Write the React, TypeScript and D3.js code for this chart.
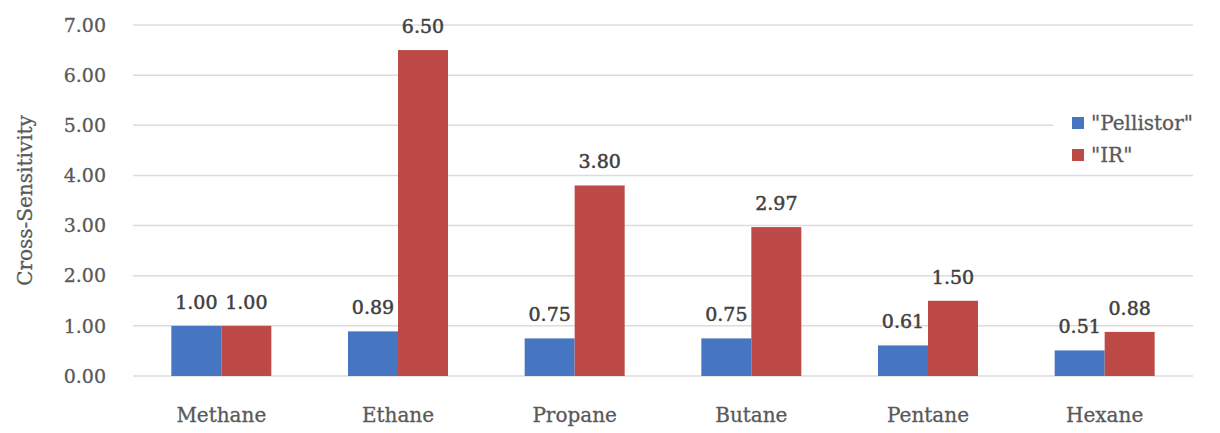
import * as React from 'react'
import { useEffect, useRef } from 'react'
import * as d3 from 'd3'

const categories = ['Methane', 'Ethane', 'Propane', 'Butane', 'Pentane', 'Hexane']
const seriesNames = ['"Pellistor"', '"IR"']
const pellistorValues = [1.0, 0.89, 0.75, 0.75, 0.61, 0.51]
const irValues = [1.0, 6.5, 3.8, 2.97, 1.5, 0.88]
const yTicks = [0, 1, 2, 3, 4, 5, 6, 7]
const colors = ['#4675C2', '#BD4A47']

const width = 1220
const height = 433

const App = () => {
  const chartRef = useRef<SVGSVGElement>(null)

  useEffect(() => {
    const svg = d3.select(chartRef.current)
    svg.selectAll('*').remove()

    const left = 133, right = 1193, top = 25, bottom = 376
    const font = '"DejaVu Serif", serif'

    const x0 = d3.scaleBand().domain(categories).range([left, right])
    const bw = x0.bandwidth()
    const x1 = d3.scaleBand().domain(seriesNames).range([bw / 2 - 50, bw / 2 + 50])
    const y = d3.scaleLinear().domain([0, 7]).range([bottom, top])

    // gridlines
    svg.append('g')
      .selectAll('line')
      .data(yTicks)
      .enter()
      .append('line')
      .attr('x1', left)
      .attr('x2', right)
      .attr('y1', d => y(d))
      .attr('y2', d => y(d))
      .attr('stroke', '#dcdcdc')
      .attr('stroke-width', 1.5)

    // y tick labels
    svg.append('g')
      .selectAll('text')
      .data(yTicks)
      .enter()
      .append('text')
      .attr('x', 106)
      .attr('y', d => y(d))
      .attr('dy', '0.35em')
      .attr('text-anchor', 'end')
      .style('font-family', font)
      .style('font-size', '19px')
      .attr('fill', '#595959')
      .attr('stroke', '#595959')
      .attr('stroke-width', 0.3)
      .text(d => d.toFixed(2))

    // y title
    svg.append('text')
      .attr('transform', `translate(32, ${(top + bottom) / 2}) rotate(-90)`)
      .attr('text-anchor', 'middle')
      .style('font-family', font)
      .style('font-size', '20px')
      .attr('fill', '#595959')
      .attr('stroke', '#595959')
      .attr('stroke-width', 0.3)
      .text('Cross-Sensitivity')

    const rows = categories.map((c, i) => ({
      category: c,
      values: [pellistorValues[i], irValues[i]],
    }))

    const groups = svg.append('g')
      .selectAll('g')
      .data(rows)
      .enter()
      .append('g')
      .attr('transform', d => `translate(${x0(d.category)}, 0)`)

    groups.selectAll('rect')
      .data(d => d.values.map((v, i) => ({ name: seriesNames[i], v, i })))
      .enter()
      .append('rect')
      .attr('x', d => x1(d.name)!)
      .attr('y', d => y(d.v))
      .attr('width', x1.bandwidth())
      .attr('height', d => y(0) - y(d.v))
      .attr('fill', d => colors[d.i])

    groups.selectAll('text.value')
      .data(d => d.values.map((v, i) => ({ name: seriesNames[i], v, i })))
      .enter()
      .append('text')
      .attr('class', 'value')
      .attr('x', d => x1(d.name)! + x1.bandwidth() / 2)
      .attr('y', d => y(d.v) - 17)
      .attr('text-anchor', 'middle')
      .style('font-family', font)
      .style('font-size', '19px')
      .attr('fill', '#404040')
      .attr('stroke', '#404040')
      .attr('stroke-width', 0.5)
      .text(d => d.v.toFixed(2))

    // category labels
    svg.append('g')
      .selectAll('text')
      .data(categories)
      .enter()
      .append('text')
      .attr('x', d => x0(d)! + bw / 2)
      .attr('y', 422)
      .attr('text-anchor', 'middle')
      .style('font-family', font)
      .style('font-size', '20px')
      .attr('fill', '#595959')
      .attr('stroke', '#595959')
      .attr('stroke-width', 0.3)
      .text(d => d)

    // legend (white box hides the gridline behind it)
    svg.append('rect')
      .attr('x', 1053)
      .attr('y', 105)
      .attr('width', 167)
      .attr('height', 65)
      .attr('fill', '#fff')

    const legend = svg.append('g')
      .selectAll('g')
      .data(seriesNames)
      .enter()
      .append('g')
      .attr('transform', (d, i) => `translate(1072, ${123 + i * 32})`)

    legend.append('rect')
      .attr('x', 0)
      .attr('y', -6)
      .attr('width', 12)
      .attr('height', 12)
      .attr('fill', (d, i) => colors[i])

    legend.append('text')
      .attr('x', 19)
      .attr('y', 0)
      .attr('dy', '0.35em')
      .style('font-family', font)
      .style('font-size', '20px')
      .attr('fill', '#595959')
      .attr('stroke', '#595959')
      .attr('stroke-width', 0.3)
      .text(d => d)
  }, [])

  return (
    <svg
      ref={chartRef}
      width={width}
      height={height}
      style={{ position: 'absolute', left: 0, top: 0, background: '#fff' }}
    ></svg>
  )
}

export default App
